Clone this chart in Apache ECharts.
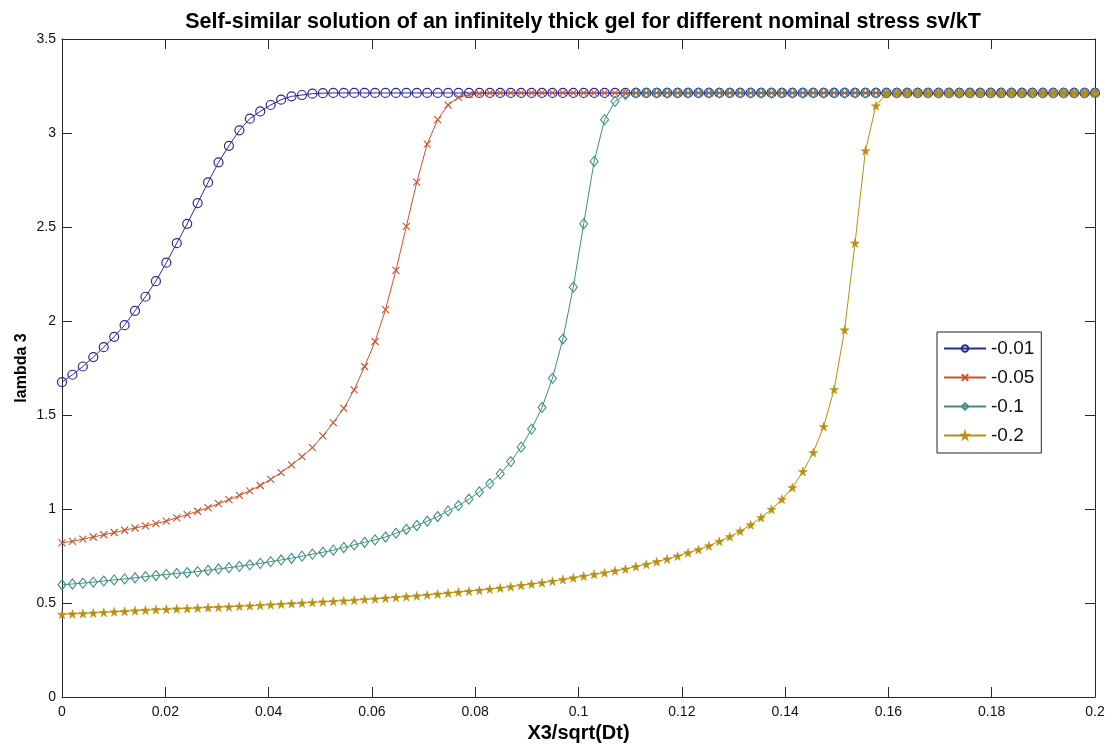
<!DOCTYPE html>
<html>
<head>
<meta charset="utf-8">
<script src="https://cdn.jsdelivr.net/npm/echarts@6/dist/echarts.min.js"></script>
<style>
html,body{margin:0;padding:0;background:#fff;}
#chart{width:1114px;height:754px;}
</style>
</head>
<body>
<div id="chart"></div>
<script>
// x grid: 100 points from 0 to 0.2
var xs = [
 0.00000, 0.00202, 0.00404, 0.00606, 0.00808, 0.01010, 0.01212, 0.01414, 0.01616, 0.01818,
 0.02020, 0.02222, 0.02424, 0.02626, 0.02828, 0.03030, 0.03232, 0.03434, 0.03636, 0.03838,
 0.04040, 0.04242, 0.04444, 0.04646, 0.04848, 0.05051, 0.05253, 0.05455, 0.05657, 0.05859,
 0.06061, 0.06263, 0.06465, 0.06667, 0.06869, 0.07071, 0.07273, 0.07475, 0.07677, 0.07879,
 0.08081, 0.08283, 0.08485, 0.08687, 0.08889, 0.09091, 0.09293, 0.09495, 0.09697, 0.09899,
 0.10101, 0.10303, 0.10505, 0.10707, 0.10909, 0.11111, 0.11313, 0.11515, 0.11717, 0.11919,
 0.12121, 0.12323, 0.12525, 0.12727, 0.12929, 0.13131, 0.13333, 0.13535, 0.13737, 0.13939,
 0.14141, 0.14343, 0.14545, 0.14747, 0.14949, 0.15152, 0.15354, 0.15556, 0.15758, 0.15960,
 0.16162, 0.16364, 0.16566, 0.16768, 0.16970, 0.17172, 0.17374, 0.17576, 0.17778, 0.17980,
 0.18182, 0.18384, 0.18586, 0.18788, 0.18990, 0.19192, 0.19394, 0.19596, 0.19798, 0.20000
];

var seriesNames = ['-0.01', '-0.05', '-0.1', '-0.2'];

var lam001 = [
 1.675, 1.714, 1.758, 1.808, 1.861, 1.916, 1.978, 2.054, 2.129, 2.212,
 2.310, 2.414, 2.517, 2.627, 2.737, 2.844, 2.932, 3.014, 3.076, 3.115,
 3.149, 3.177, 3.195, 3.202, 3.209, 3.212, 3.213, 3.213, 3.213, 3.213,
 3.213, 3.213, 3.213, 3.213, 3.213, 3.213, 3.213, 3.213, 3.213, 3.213,
 3.213, 3.213, 3.213, 3.213, 3.213, 3.213, 3.213, 3.213, 3.213, 3.213,
 3.213, 3.213, 3.213, 3.213, 3.213, 3.213, 3.213, 3.213, 3.213, 3.213,
 3.213, 3.213, 3.213, 3.213, 3.213, 3.213, 3.213, 3.213, 3.213, 3.213,
 3.213, 3.213, 3.213, 3.213, 3.213, 3.213, 3.213, 3.213, 3.213, 3.213,
 3.213, 3.213, 3.213, 3.213, 3.213, 3.213, 3.213, 3.213, 3.213, 3.213,
 3.213, 3.213, 3.213, 3.213, 3.213, 3.213, 3.213, 3.213, 3.213, 3.213
];

var lam005 = [
 0.820, 0.828, 0.840, 0.851, 0.863, 0.875, 0.887, 0.899, 0.910, 0.922,
 0.936, 0.953, 0.970, 0.988, 1.007, 1.028, 1.050, 1.072, 1.097, 1.125,
 1.158, 1.194, 1.235, 1.278, 1.326, 1.389, 1.460, 1.535, 1.634, 1.758,
 1.891, 2.060, 2.269, 2.503, 2.739, 2.941, 3.071, 3.149, 3.189, 3.204,
 3.210, 3.213, 3.213, 3.213, 3.213, 3.213, 3.213, 3.213, 3.213, 3.213,
 3.213, 3.213, 3.213, 3.213, 3.213, 3.213, 3.213, 3.213, 3.213, 3.213,
 3.213, 3.213, 3.213, 3.213, 3.213, 3.213, 3.213, 3.213, 3.213, 3.213,
 3.213, 3.213, 3.213, 3.213, 3.213, 3.213, 3.213, 3.213, 3.213, 3.213,
 3.213, 3.213, 3.213, 3.213, 3.213, 3.213, 3.213, 3.213, 3.213, 3.213,
 3.213, 3.213, 3.213, 3.213, 3.213, 3.213, 3.213, 3.213, 3.213, 3.213
];

var lam01 = [
 0.597, 0.601, 0.606, 0.611, 0.617, 0.623, 0.628, 0.634, 0.640, 0.646,
 0.652, 0.657, 0.662, 0.667, 0.674, 0.681, 0.688, 0.695, 0.703, 0.711,
 0.720, 0.729, 0.738, 0.749, 0.760, 0.770, 0.781, 0.795, 0.809, 0.823,
 0.836, 0.851, 0.871, 0.892, 0.912, 0.935, 0.960, 0.990, 1.018, 1.052,
 1.091, 1.135, 1.187, 1.252, 1.329, 1.425, 1.540, 1.695, 1.904, 2.180,
 2.517, 2.849, 3.071, 3.168, 3.204, 3.213, 3.213, 3.213, 3.213, 3.213,
 3.213, 3.213, 3.213, 3.213, 3.213, 3.213, 3.213, 3.213, 3.213, 3.213,
 3.213, 3.213, 3.213, 3.213, 3.213, 3.213, 3.213, 3.213, 3.213, 3.213,
 3.213, 3.213, 3.213, 3.213, 3.213, 3.213, 3.213, 3.213, 3.213, 3.213,
 3.213, 3.213, 3.213, 3.213, 3.213, 3.213, 3.213, 3.213, 3.213, 3.213
];

var lam02 = [
 0.440, 0.442, 0.444, 0.447, 0.450, 0.453, 0.456, 0.459, 0.462, 0.465,
 0.467, 0.469, 0.471, 0.473, 0.476, 0.478, 0.480, 0.483, 0.485, 0.488,
 0.491, 0.494, 0.497, 0.500, 0.503, 0.506, 0.509, 0.512, 0.515, 0.519,
 0.522, 0.526, 0.530, 0.534, 0.538, 0.543, 0.548, 0.553, 0.558, 0.563,
 0.568, 0.574, 0.580, 0.587, 0.594, 0.601, 0.608, 0.616, 0.625, 0.634,
 0.643, 0.653, 0.661, 0.671, 0.681, 0.694, 0.706, 0.720, 0.734, 0.750,
 0.767, 0.784, 0.804, 0.828, 0.853, 0.883, 0.916, 0.955, 0.998, 1.052,
 1.114, 1.199, 1.300, 1.439, 1.636, 1.953, 2.415, 2.906, 3.145, 3.209,
 3.213, 3.213, 3.213, 3.213, 3.213, 3.213, 3.213, 3.213, 3.213, 3.213,
 3.213, 3.213, 3.213, 3.213, 3.213, 3.213, 3.213, 3.213, 3.213, 3.213
];

var xTicks = [0, 0.02, 0.04, 0.06, 0.08, 0.1, 0.12, 0.14, 0.16, 0.18, 0.2];
var yTicks = [0, 0.5, 1, 1.5, 2, 2.5, 3, 3.5];

var colors = ['#2a2a96', '#cc522c', '#3f8f80', '#b8900e'];
var STAR = 'path://M50,0 L61,35 L98,35 L68,57 L79,91 L50,70 L21,91 L32,57 L2,35 L39,35 Z';
var XMARK = 'path://M0,0L10,10M10,0L0,10';

function pairs(vals) { return xs.map(function (x, i) { return [x, vals[i]]; }); }

var FONT = '"Liberation Sans", Arial, Helvetica, sans-serif';

var chart = echarts.init(document.getElementById('chart'), null, {renderer: 'canvas'});

function axisCommon(extra) {
  return Object.assign({
    axisLine: {show: true, onZero: false, lineStyle: {color: '#262626', width: 1}},
    axisTick: {show: true, inside: true, length: 10, lineStyle: {color: '#262626', width: 1}},
    splitLine: {show: false}
  }, extra);
}

var option = {
  animation: false,
  backgroundColor: '#ffffff',
  title: {
    text: 'Self-similar solution of an infinitely thick gel for different nominal stress sv/kT',
    left: 578, top: 6, textAlign: 'center',
    textStyle: {fontFamily: FONT, fontWeight: 'bold', fontSize: 21.5, color: '#000'}
  },
  legend: {
    orient: 'vertical',
    left: 937, top: 332,
    data: seriesNames,
    backgroundColor: '#fff',
    borderColor: '#222', borderWidth: 1, borderRadius: 0,
    padding: [7, 7, 8, 6],
    itemGap: 10,
    itemWidth: 42, itemHeight: 8,
    textStyle: {fontFamily: FONT, fontSize: 19, color: '#111'}
  },
  grid: {left: 62, right: 19, top: 39, bottom: 57, containLabel: false},
  xAxis: [
    axisCommon({
      type: 'value', min: 0, max: 0.2, interval: 0.02, position: 'bottom',
      name: 'X3/sqrt(Dt)', nameLocation: 'middle', nameGap: 26,
      nameTextStyle: {fontFamily: FONT, fontWeight: 'bold', fontSize: 20, color: '#000'},
      axisLabel: {margin: 8, fontFamily: FONT, fontSize: 14, color: '#111',
        formatter: function (v) { return String(+v.toFixed(2)); }}
    }),
    axisCommon({
      type: 'value', min: 0, max: 0.2, interval: 0.02, position: 'top',
      axisLabel: {show: false}
    })
  ],
  yAxis: [
    axisCommon({
      type: 'value', min: 0, max: 3.5, interval: 0.5, position: 'left',
      name: 'lambda 3', nameLocation: 'middle', nameGap: 32, nameRotate: 90,
      nameMoveOverlap: false,
      nameTextStyle: {fontFamily: FONT, fontWeight: 'bold', fontSize: 16, color: '#000'},
      axisLabel: {margin: 6, fontFamily: FONT, fontSize: 14, color: '#111',
        formatter: function (v) { return String(+v.toFixed(1)); }}
    }),
    axisCommon({
      type: 'value', min: 0, max: 3.5, interval: 0.5, position: 'right',
      axisLabel: {show: false}
    })
  ],
  series: [
    {
      name: seriesNames[0], type: 'line', data: pairs(lam001),
      xAxisIndex: 0, yAxisIndex: 0, showAllSymbol: true,
      symbol: 'circle', symbolSize: 9,
      lineStyle: {color: colors[0], width: 1},
      itemStyle: {color: 'rgba(255,255,255,0)', borderColor: colors[0], borderWidth: 1.2},
      emphasis: {disabled: true}
    },
    {
      name: seriesNames[1], type: 'line', data: pairs(lam005),
      xAxisIndex: 0, yAxisIndex: 0, showAllSymbol: true,
      symbol: XMARK, symbolSize: 7,
      lineStyle: {color: colors[1], width: 1},
      itemStyle: {color: 'rgba(255,255,255,0)', borderColor: colors[1], borderWidth: 1.1},
      emphasis: {disabled: true}
    },
    {
      name: seriesNames[2], type: 'line', data: pairs(lam01),
      xAxisIndex: 0, yAxisIndex: 0, showAllSymbol: true,
      symbol: 'diamond', symbolSize: [8, 10],
      lineStyle: {color: colors[2], width: 1},
      itemStyle: {color: 'rgba(255,255,255,0)', borderColor: colors[2], borderWidth: 1.1},
      emphasis: {disabled: true}
    },
    {
      name: seriesNames[3], type: 'line', data: pairs(lam02),
      xAxisIndex: 0, yAxisIndex: 0, showAllSymbol: true,
      symbol: STAR, symbolSize: 9,
      lineStyle: {color: colors[3], width: 1},
      itemStyle: {color: colors[3], borderColor: colors[3], borderWidth: 0.5},
      emphasis: {disabled: true}
    }
  ]
};

chart.setOption(option);
</script>
</body>
</html>
